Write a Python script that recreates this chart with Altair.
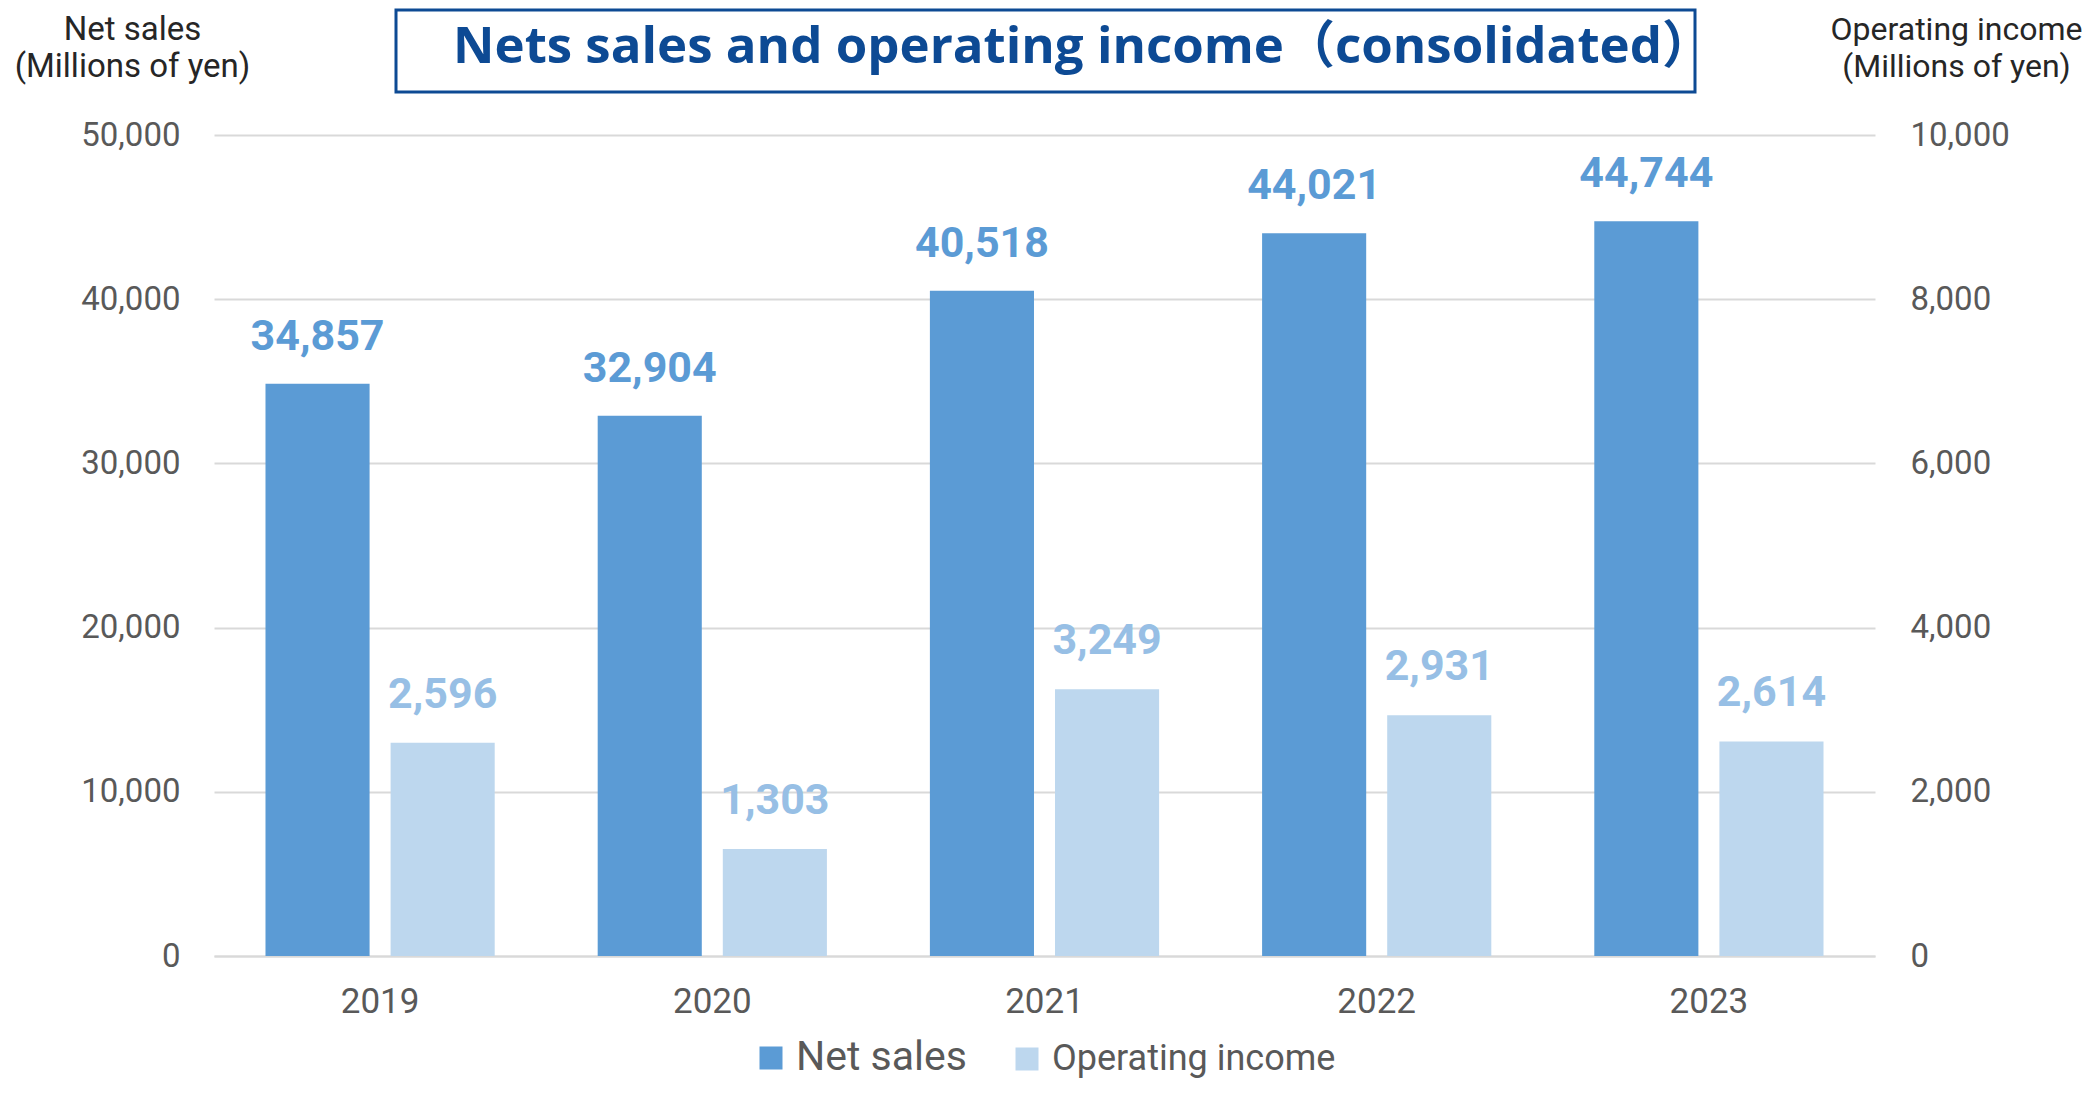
import altair as alt
import pandas as pd

years = ["2019", "2020", "2021", "2022", "2023"]
net_sales = [34857, 32904, 40518, 44021, 44744]
operating_income = [2596, 1303, 3249, 2931, 2614]
series_names = ["Net sales", "Operating income"]
left_ticks = [0, 10000, 20000, 30000, 40000, 50000]
right_ticks = [0, 2000, 4000, 6000, 8000, 10000]
title_text = "Nets sales and operating income（consolidated）"
left_title = ["Net sales", "(Millions of yen)"]
right_title = ["Operating income", "(Millions of yen)"]

df = pd.DataFrame({
    "year": years * 2,
    "series": [series_names[0]] * len(years) + [series_names[1]] * len(years),
    "value": net_sales + operating_income,
})

FONT = "Roboto, Noto Sans CJK JP"
TITLE_FONT = "Open Sans, Noto Sans CJK JP"
GRAY = "#595959"
BLUE = "#5B9BD5"
LIGHT = "#BDD7EE"
LIGHT_LABEL = "#97BFE5"
NAVY = "#0D4A94"

x_enc = alt.X(
    "year:N", sort=years,
    scale=alt.Scale(paddingInner=0.31, paddingOuter=0.155),
    axis=alt.Axis(title=None, labelAngle=0, ticks=False, domainColor="#D9D9D9",
                  domainWidth=2, labelFont=FONT, labelFontSize=35, labelColor=GRAY,
                  labelPadding=28, grid=False),
)
xoff = alt.XOffset("series:N", sort=series_names,
                   scale=alt.Scale(domain=series_names, paddingInner=0.168, paddingOuter=0))
color = alt.Color(
    "series:N",
    scale=alt.Scale(domain=series_names, range=[BLUE, LIGHT]),
    legend=alt.Legend(
        title=None, orient="none", legendX=539, legendY=905, direction="horizontal",
        symbolType="square", symbolSize=529, symbolStrokeWidth=0, labelOffset=7,
        columnPadding=42, labelColor=GRAY, labelFont=FONT, labelLimit=600, padding=0,
        labelFontSize=alt.ExprRef("datum.value === 'Net sales' ? 41 : 36"),
    ),
)

y_left = alt.Y(
    "value:Q",
    scale=alt.Scale(domain=[0, 50000], nice=False),
    axis=alt.Axis(orient="left", values=left_ticks, format=",.0f", domain=False, ticks=False,
                  grid=True, gridColor="#D9D9D9", gridWidth=2,
                  labelFont=FONT, labelFontSize=33, labelColor=GRAY, labelPadding=34,
                  title=left_title, titleAngle=0, titleX=-82, titleY=-96,
                  titleAlign="center", titleBaseline="alphabetic", titleFont=FONT,
                  titleFontSize=33, titleFontWeight="normal", titleColor="#262626",
                  titleLineHeight=37),
)
y_right = alt.Y(
    "value:Q",
    scale=alt.Scale(domain=[0, 10000], nice=False),
    axis=alt.Axis(orient="right", values=right_ticks, format=",.0f", domain=False, ticks=False,
                  grid=False, labelFont=FONT, labelFontSize=33, labelColor=GRAY, labelPadding=35,
                  title=right_title, titleAngle=0, titleX=81, titleY=-96,
                  titleAlign="center", titleBaseline="alphabetic", titleFont=FONT,
                  titleFontSize=32, titleFontWeight="normal", titleColor="#262626",
                  titleLineHeight=37),
)

base = alt.Chart(df)

bars_a = base.transform_filter(alt.datum.series == series_names[0]).mark_bar().encode(
    x=x_enc, xOffset=xoff, y=y_left, color=color)
text_a = base.transform_filter(alt.datum.series == series_names[0]).mark_text(
    font=FONT, fontWeight="bold", fontSize=43, color=BLUE, baseline="alphabetic", dy=-34
).encode(x=x_enc, xOffset=xoff, y=y_left, text=alt.Text("value:Q", format=",.0f"))
layer_a = alt.layer(bars_a, text_a)

bars_b = base.transform_filter(alt.datum.series == series_names[1]).mark_bar().encode(
    x=x_enc, xOffset=xoff, y=y_right, color=color)
text_b = base.transform_filter(alt.datum.series == series_names[1]).mark_text(
    font=FONT, fontWeight="bold", fontSize=43, color=LIGHT_LABEL, baseline="alphabetic", dy=-35
).encode(x=x_enc, xOffset=xoff, y=y_right, text=alt.Text("value:Q", format=",.0f"))
layer_b = alt.layer(bars_b, text_b)

title_df = pd.DataFrame({"t": [title_text]})
box = alt.Chart(title_df).mark_rect(fill="white", stroke=NAVY, strokeWidth=3).encode(
    x=alt.value(182), x2=alt.value(1481), y=alt.value(-125), y2=alt.value(-43))
title = alt.Chart(title_df).mark_text(
    font=TITLE_FONT, fontSize=51, fontWeight="bold", color=NAVY, align="center",
    baseline="alphabetic"
).encode(x=alt.value(869), y=alt.value(-72), text="t:N")

chart = alt.layer(layer_a, layer_b, box, title).resolve_scale(y="independent").properties(
    width=1661, height=821,
    autosize=alt.AutoSizeParams(type="none"),
    padding={"left": 206, "top": 127, "right": 213, "bottom": 127},
    background="white",
).configure_view(stroke=None)

chart.save("out.html", embed_options={"renderer": "svg", "actions": False})
